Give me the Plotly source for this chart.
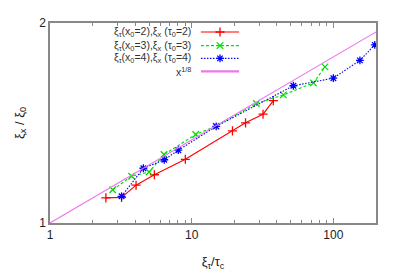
import plotly.graph_objects as go

# Data
red_x = [2.48, 3.2, 4.05, 5.45, 9.02, 19.4, 24.0, 31.9, 37.7]
red_y = [1.091, 1.093, 1.140, 1.182, 1.247, 1.376, 1.415, 1.458, 1.528]

green_x = [2.77, 3.77, 5.0, 6.38, 10.67, 14.85, 28.6, 44.4, 72.3, 87.3]
green_y = [1.122, 1.176, 1.193, 1.268, 1.359, 1.399, 1.513, 1.559, 1.625, 1.718]

blue_x = [3.2, 4.56, 6.41, 8.05, 14.9, 52.2, 100, 154, 196]
blue_y = [1.097, 1.209, 1.245, 1.287, 1.398, 1.609, 1.652, 1.757, 1.854]

pow_x = [1, 200]
pow_exp = 1 / 8

labels = [
    "ξ<sub>τ</sub>(x<sub>0</sub>=2),ξ<sub>x</sub> (τ<sub>0</sub>=2)",
    "ξ<sub>τ</sub>(x<sub>0</sub>=3),ξ<sub>x</sub> (τ<sub>0</sub>=3)",
    "ξ<sub>τ</sub>(x<sub>0</sub>=4),ξ<sub>x</sub> (τ<sub>0</sub>=4)",
    "x<sup>1/8</sup>",
]
colors = ["#ff0000", "#00dd00", "#0000ff", "#ee77ee"]
dashes = ["solid", "3px,2px", "1.5px,1.5px", "solid"]
symbols = ["cross-thin", "x-thin", "asterisk", None]

x_ticks = [1, 10, 100]
y_ticks = [1, 2]

fig = go.Figure()

series = [(red_x, red_y), (green_x, green_y), (blue_x, blue_y)]
for i, (xs, ys) in enumerate(series):
    fig.add_trace(go.Scatter(
        x=xs, y=ys, mode="lines+markers",
        line=dict(color=colors[i], width=1.1, dash=dashes[i]),
        marker=dict(symbol=symbols[i], size=6.5, color=colors[i],
                    line=dict(color=colors[i], width=1.3)),
        showlegend=False,
    ))

fig.add_trace(go.Scatter(
    x=pow_x, y=[v ** pow_exp for v in pow_x], mode="lines",
    line=dict(color=colors[3], width=1.1), showlegend=False,
))

# Manual gnuplot-style legend (text left, sample right)
row_y = [0.955, 0.887, 0.823, 0.758]
for i in range(4):
    fig.add_trace(go.Scatter(
        x=[0.463, 0.580], y=[row_y[i], row_y[i]], mode="lines",
        line=dict(color=colors[i], width=1.1 if i < 3 else 2.2, dash=dashes[i]),
        xaxis="x2", yaxis="y2", showlegend=False, hoverinfo="skip",
    ))
    if symbols[i]:
        fig.add_trace(go.Scatter(
            x=[0.5215], y=[row_y[i]], mode="markers",
            marker=dict(symbol=symbols[i], size=6.5, color=colors[i],
                        line=dict(color=colors[i], width=1.3)),
            xaxis="x2", yaxis="y2", showlegend=False, hoverinfo="skip",
        ))
    fig.add_annotation(
        x=0.438, y=row_y[i], xref="x2", yref="y2", text=labels[i],
        showarrow=False, xanchor="right", yanchor="middle",
        font=dict(size=10.5, color="#333333"),
    )

axis_common = dict(
    showgrid=False, zeroline=False, showline=True, linecolor="#888888",
    linewidth=1.5, mirror="ticks", ticks="inside", tickcolor="#888888",
    ticklen=5, tickfont=dict(size=12, color="#222222"),
)

# The page adds an 8px body margin, so the figure is sized/offset to compensate
fig.update_layout(
    width=391, height=271,
    margin=dict(l=42, r=23, t=8, b=56),
    paper_bgcolor="white", plot_bgcolor="white",
    font=dict(family="Liberation Sans, Arial, sans-serif", color="#222222"),
    xaxis=dict(type="log", range=[0, 2.30103], tickvals=x_ticks,
               ticktext=[str(v) for v in x_ticks],
               minor=dict(ticks="inside", ticklen=3, tickcolor="#888888",
                          tickvals=[2, 3, 4, 5, 6, 7, 8, 9, 20, 30, 40, 50, 60, 70, 80, 90]),
               title=dict(text="ξ<sub>τ</sub>/τ<sub>c</sub>", standoff=16, font=dict(size=13)),
               **axis_common),
    yaxis=dict(type="log", range=[0, 0.30103], tickvals=y_ticks,
               ticktext=[str(v) for v in y_ticks],
               title=dict(text="ξ<sub>x</sub> / ξ<sub>0</sub>", standoff=12, font=dict(size=13)),
               **axis_common),
    xaxis2=dict(overlaying="x", range=[0, 1], visible=False, fixedrange=True),
    yaxis2=dict(overlaying="y", range=[0, 1], visible=False, fixedrange=True),
)

fig.write_html("out.html")
